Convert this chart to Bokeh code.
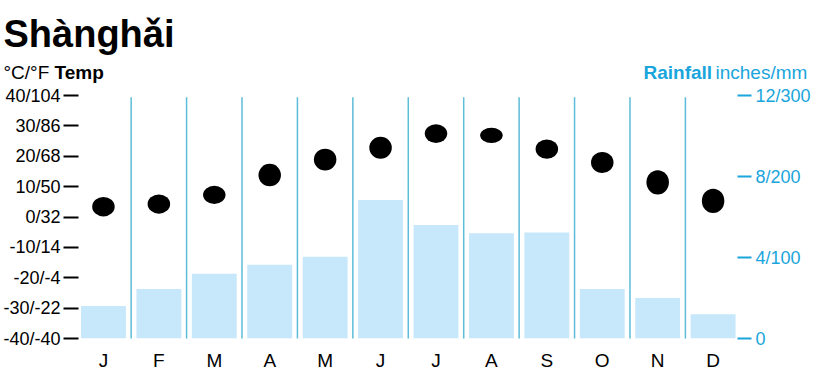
from bokeh.plotting import figure
from bokeh.models import Range1d, LinearAxis, FixedTicker
from bokeh.layouts import column
from bokeh.core.properties import value
from bokeh.embed import file_html
from bokeh.resources import INLINE

months = ["J", "F", "M", "A", "M", "J", "J", "A", "S", "O", "N", "D"]
temp_low = [0.2, 1.1, 4.3, 10.1, 15.3, 19.2, 24.4, 24.4, 19.2, 14.5, 7.4, 1.3]
temp_high = [6.6, 7.4, 10.3, 17.5, 22.5, 26.4, 30.5, 29.4, 25.5, 21.4, 15.4, 9.3]
rain_mm = [40, 61, 80, 91, 101, 171, 140, 130, 131, 61, 50, 30]
temp_ticks = [-40, -30, -20, -10, 0, 10, 20, 30, 40]
temp_tick_labels = ["-40/-40", "-30/-22", "-20/-4", "-10/14", "0/32", "10/50", "20/68", "30/86", "40/104"]
rain_ticks = [0, 100, 200, 300]
rain_tick_labels = ["0", "4/100", "8/200", "12/300"]

CYAN = "#1aa5dc"
SEP = "#5cbcd9"
BAR = "#c7e7fa"
FONT = "Liberation Sans"

idx = list(range(len(months)))
mid = [(a + b) / 2 for a, b in zip(temp_low, temp_high)]
span = [b - a for a, b in zip(temp_low, temp_high)]

# ---- header (title + axis titles) ----
HEAD_H = 84
h = figure(width=813, height=HEAD_H, output_backend="svg", toolbar_location=None,
           x_range=Range1d(0, 813), y_range=Range1d(HEAD_H, 0),
           min_border=0, x_axis_location=None, y_axis_location=None)
h.outline_line_color = None
h.xgrid.visible = False
h.ygrid.visible = False

def txt(x, y, s, size, color="black", bold=False):
    h.text(x=[x], y=[y], text=[s], text_font=value(FONT), text_font_size=size,
           text_color=color, text_font_style="bold" if bold else "normal",
           text_align="left", text_baseline="alphabetic")

txt(3, 33, "Shànghǎi", "38px", bold=True)
txt(3, 71.5, "°C/°F", "19px")
txt(54, 71.5, "Temp", "19px", bold=True)
txt(643, 71.5, "Rainfall", "19px", color=CYAN, bold=True)
txt(715, 71.5, "inches/mm", "19px", color=CYAN)

# ---- main chart ----
p = figure(width=813, height=374 - HEAD_H, output_backend="svg", toolbar_location=None,
           x_range=Range1d(-0.45, 11.44), y_range=Range1d(-40, 40),
           min_border_left=77, min_border_right=76, min_border_top=11, min_border_bottom=36,
           y_axis_location=None, x_axis_location=None)
p.outline_line_color = None
p.xgrid.visible = False
p.ygrid.visible = False
p.extra_y_ranges = {"rain": Range1d(0, 300)}

for fig in (h, p):
    try:
        fig.frame_align = False
    except Exception:
        pass

la = LinearAxis(ticker=FixedTicker(ticks=temp_ticks))
la.major_label_overrides = {t: l for t, l in zip(temp_ticks, temp_tick_labels)}
la.axis_line_color = None
la.minor_tick_line_color = None
la.major_tick_in = 0
la.major_tick_out = 15
la.major_tick_line_width = 2
la.major_tick_line_color = "black"
la.major_label_standoff = 3
la.major_label_text_font = FONT
la.major_label_text_font_size = "18px"
la.major_label_text_color = "black"
p.add_layout(la, "left")

ra = LinearAxis(y_range_name="rain", ticker=FixedTicker(ticks=rain_ticks))
ra.major_label_overrides = {t: l for t, l in zip(rain_ticks, rain_tick_labels)}
ra.axis_line_color = None
ra.minor_tick_line_color = None
ra.major_tick_in = 0
ra.major_tick_out = 14
ra.major_tick_line_width = 2
ra.major_tick_line_color = CYAN
ra.major_label_standoff = 4
ra.major_label_text_font = FONT
ra.major_label_text_font_size = "18px"
ra.major_label_text_color = CYAN
p.add_layout(ra, "right")

ba = LinearAxis(ticker=FixedTicker(ticks=idx))
ba.major_label_overrides = {i: m for i, m in zip(idx, months)}
ba.axis_line_color = None
ba.minor_tick_line_color = None
ba.major_tick_line_color = None
ba.major_tick_in = 0
ba.major_tick_out = 0
ba.major_label_standoff = 11
ba.major_label_text_font = FONT
ba.major_label_text_font_size = "19px"
ba.major_label_text_color = "black"
p.add_layout(ba, "below")

seps = [i + 0.5 for i in idx[:-1]]
p.segment(x0=seps, x1=seps, y0=[-40.4] * len(seps), y1=[39.4] * len(seps),
          line_color=SEP, line_width=1.5)

p.vbar(x=idx, top=rain_mm, bottom=0, width=0.81, y_range_name="rain",
       fill_color=BAR, line_color=None)

p.ellipse(x=idx, y=mid, width=22.5, height=span, width_units="screen",
          fill_color="black", line_color=None)

layout = column(h, p, spacing=0)
open("out.html", "w").write(file_html(layout, INLINE))
